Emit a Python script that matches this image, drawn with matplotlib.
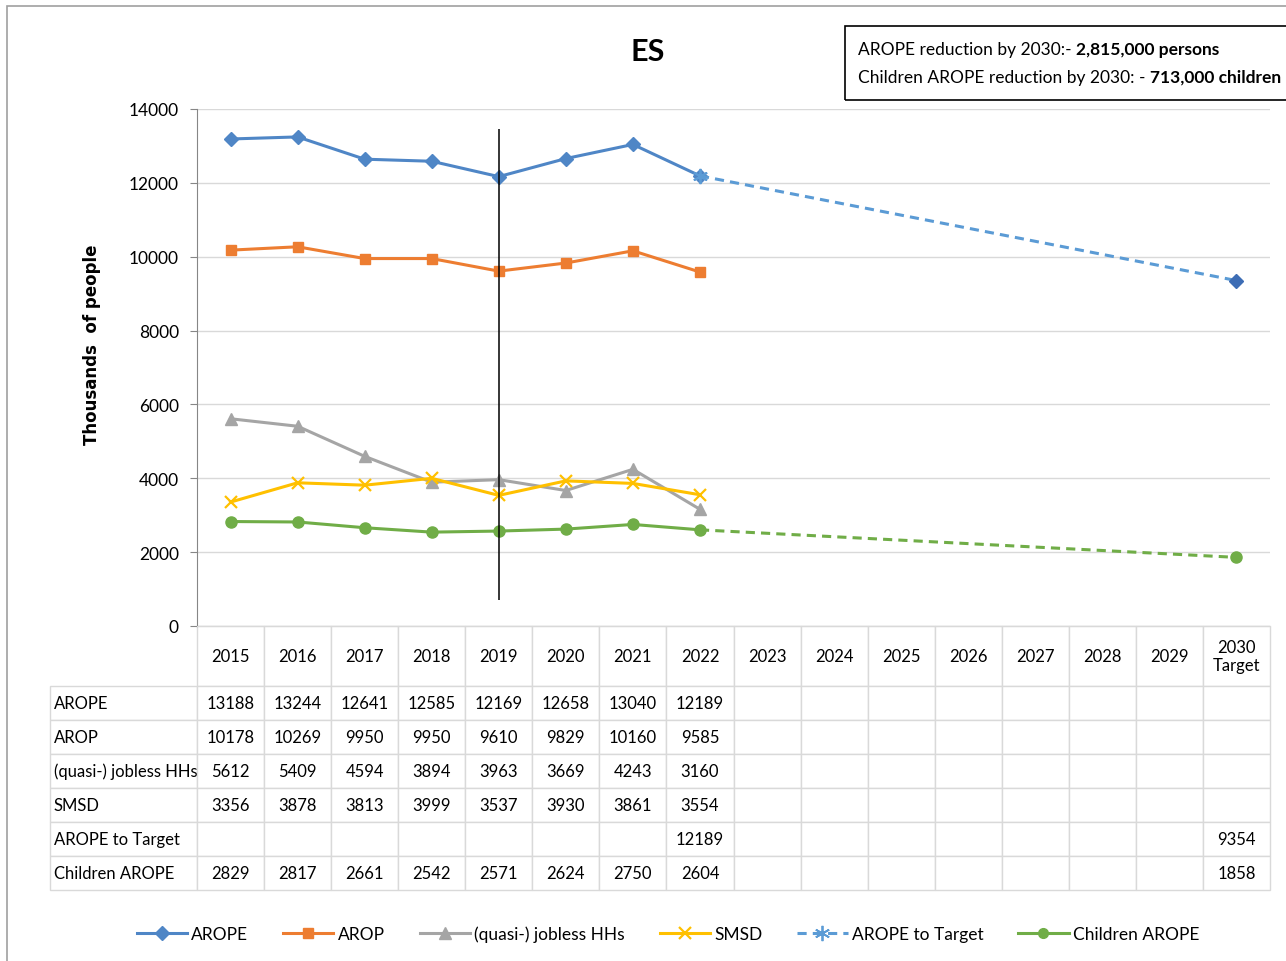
import numpy as np
import matplotlib
matplotlib.use('Agg')
import matplotlib.pyplot as plt
from matplotlib.patches import Rectangle
from matplotlib.lines import Line2D

plt.rcParams['font.family'] = ['Lato', 'DejaVu Sans']

nan = np.nan
years = ['2015', '2016', '2017', '2018', '2019', '2020', '2021', '2022',
         '2023', '2024', '2025', '2026', '2027', '2028', '2029', '2030\nTarget']
arope = [13188, 13244, 12641, 12585, 12169, 12658, 13040, 12189] + [nan] * 8
arop = [10178, 10269, 9950, 9950, 9610, 9829, 10160, 9585] + [nan] * 8
jobless = [5612, 5409, 4594, 3894, 3963, 3669, 4243, 3160] + [nan] * 8
smsd = [3356, 3878, 3813, 3999, 3537, 3930, 3861, 3554] + [nan] * 8
target = [nan] * 7 + [12189] + [nan] * 7 + [9354]
children = [2829, 2817, 2661, 2542, 2571, 2624, 2750, 2604] + [nan] * 7 + [1858]

names = ['AROPE', 'AROP', '(quasi-) jobless HHs', 'SMSD', 'AROPE to Target', 'Children AROPE']
colors = ['#4f86c6', '#ed7d31', '#a5a5a5', '#ffc000', '#5b9bd5', '#70ad47']

fig = plt.figure(figsize=(12.86, 9.62), dpi=100)
ax = fig.add_axes([197 / 1286, 1 - 627 / 962, 1073 / 1286, 517 / 962])

x = np.arange(len(years))
lw = 2.2
h_arope, = ax.plot(x, arope, color=colors[0], lw=lw, marker='D', ms=7, zorder=4)
h_arop, = ax.plot(x, arop, color=colors[1], lw=lw, marker='s', ms=7, zorder=4)
h_job, = ax.plot(x, jobless, color=colors[2], lw=lw, marker='^', ms=8, zorder=4)
h_smsd, = ax.plot(x, smsd, color=colors[3], lw=lw, marker='x', ms=9, mew=1.6, zorder=4)

t = np.array(target, dtype=float)
tm = ~np.isnan(t)
h_tgt, = ax.plot(x[tm], t[tm], color=colors[4], lw=lw, ls=(0, (3, 2)),
                 marker=(6, 2, 0), ms=11, mew=1.3, markevery=[0], zorder=4)
ax.plot(x[tm][-1:], t[tm][-1:], ls='none', marker='D', ms=7, color='#3d6db5', zorder=5)

c = np.array(children, dtype=float)
cm = ~np.isnan(c)
cx, cy = x[cm], c[cm]
h_child, = ax.plot(cx[:-1], cy[:-1], color=colors[5], lw=lw, marker='o', ms=8, zorder=4)
ax.plot(cx[-2:], cy[-2:], color=colors[5], lw=lw, ls=(0, (3, 2)), marker='o', ms=8,
        markevery=[1], zorder=4)

# 2019 break line
ax.vlines(years.index('2019'), 700, 13450, color='black', lw=1.1, zorder=6)

ax.set_xlim(-0.5, len(years) - 0.5)
ax.set_ylim(0, 14000)
ax.set_yticks(np.arange(0, 14001, 2000))
ax.tick_params(axis='y', labelsize=12.5, length=5, color='#868686', pad=8)
ax.tick_params(axis='x', bottom=False, labelbottom=False)
ax.grid(axis='y', color='#d9d9d9', lw=1)
ax.set_axisbelow(True)
for s in ['top', 'right']:
    ax.spines[s].set_visible(False)
ax.spines['left'].set_color('#868686')
ax.spines['bottom'].set_color('#d9d9d9')

# data table under the plot
def fmt(v):
    return '' if np.isnan(v) else '%d' % v

rows = [arope, arop, jobless, smsd, target, children]
cell_text = [[name] + [fmt(float(v)) for v in vals] for name, vals in zip(names, rows)]
tab = ax.table(cellText=cell_text, colLabels=[''] + years, cellLoc='center',
               bbox=[-147 / 1073, -264 / 517, 1220 / 1073, 264 / 517])
tab.auto_set_font_size(False)
tab.set_fontsize(12)
for (r, col), cell in tab.get_celld().items():
    cell.set_edgecolor('#d9d9d9')
    cell.set_linewidth(1)
    cell.set_height(60 if r == 0 else 34)
    cell.set_width(147 if col == 0 else 1073 / 16)
    if col == 0:
        cell.get_text().set_horizontalalignment('left')
        cell.PAD = 0.025
tab[0, 0].visible_edges = ''

fig.text(0.504, 1 - 52 / 962, 'ES', fontsize=22, fontweight='bold', ha='center', va='center')
fig.text(92 / 1286, 1 - 345 / 962, 'Thousands  of people', rotation=90, fontsize=12,
         fontweight='bold', ha='center', va='center', family='DejaVu Sans')

# note box
fig.patches.append(Rectangle((845 / 1286, 1 - 101 / 962), 445 / 1286, 74 / 962,
                             transform=fig.transFigure, fill=False, ec='black', lw=1.2))
notes = [('AROPE reduction by 2030:- ', '2,815,000 persons', 50),
         ('Children AROPE reduction by 2030: - ', '713,000 children', 78)]
for plain, bold, ypx in notes:
    t1 = fig.text(858 / 1286, 1 - ypx / 962, plain, fontsize=12.5, va='center')
    ax.annotate(bold, xy=(1, 0.5), xycoords=t1, va='center', ha='left',
                fontsize=12.5, fontweight='bold', annotation_clip=False)

# outer frame
fig.patches.append(Rectangle((7 / 1286, -0.01), 1.0, 1 - 7 / 962 + 0.01,
                             transform=fig.transFigure, fill=False, ec='#a0a0a0', lw=1.2))

leg_handles = [h_arope, h_arop, h_job, h_smsd,
               Line2D([], [], color=colors[4], lw=lw, ls=(0, (3, 2)), marker=(6, 2, 0), ms=11, mew=1.3),
               Line2D([], [], color=colors[5], lw=lw, marker='o', ms=7)]
fig.legend(leg_handles, names, loc='center', bbox_to_anchor=(668 / 1286, 1 - 935 / 962),
           ncol=6, frameon=False, fontsize=12.5, handlelength=2.9, columnspacing=2.0,
           handletextpad=0.25)

fig.savefig('out.png', dpi=100)
